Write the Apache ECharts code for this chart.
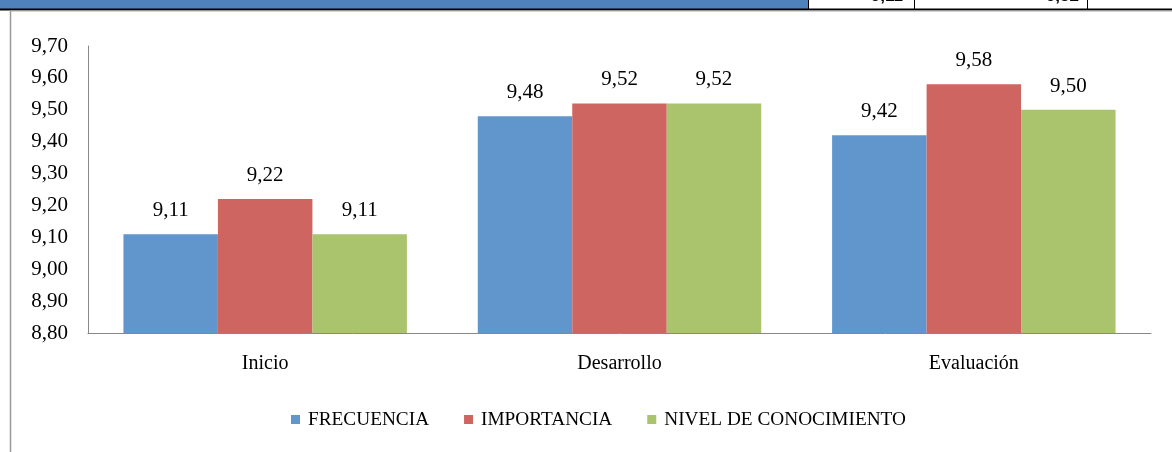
<!DOCTYPE html>
<html>
<head>
<meta charset="utf-8">
<script src="https://cdn.jsdelivr.net/npm/echarts@6/dist/echarts.min.js"></script>
<style>
  html, body { margin: 0; padding: 0; background: #fff; }
  #chart { width: 1172px; height: 452px; }
</style>
</head>
<body>
<div id="chart"></div>
<script>
  const categories = ['Inicio', 'Desarrollo', 'Evaluación']
  const seriesNames = ['FRECUENCIA', 'IMPORTANCIA', 'NIVEL DE CONOCIMIENTO']
  const frecuencia = [9.11, 9.48, 9.42]
  const importancia = [9.22, 9.52, 9.58]
  const nivel = [9.11, 9.52, 9.50]
  const tableCells = ['9,11', '9,52']

  const colors = ['#6096CC', '#CF6560', '#A9C46C']
  const font = 'Liberation Serif'

  const fmt = v => v.toFixed(2).replace('.', ',')

  const myChart = echarts.init(document.getElementById('chart'))

  const barSeries = [frecuencia, importancia, nivel].map((data, i) => ({
    name: seriesNames[i],
    type: 'bar',
    barGap: 0,
    barCategoryGap: '20%',
    itemStyle: { color: colors[i] },
    label: {
      show: true,
      position: 'top',
      distance: 13,
      fontFamily: font,
      fontSize: 21,
      color: '#000',
      formatter: p => fmt(p.value)
    },
    data: data
  }))

  myChart.setOption({
    animation: false,
    textStyle: { fontFamily: font },
    legend: {
      bottom: 18,
      left: 286,
      icon: 'rect',
      itemWidth: 9,
      itemHeight: 9,
      itemGap: 35,
      textStyle: { fontFamily: font, fontSize: 19.3, color: '#000', padding: [0, 0, 0, 3] },
      data: seriesNames
    },
    grid: { left: 88, right: 21, top: 46, bottom: 119 },
    xAxis: {
      type: 'category',
      data: categories,
      axisTick: { show: false },
      axisLine: { lineStyle: { color: '#888', width: 1 } },
      axisLabel: { fontFamily: font, fontSize: 20, color: '#000', margin: 21 }
    },
    yAxis: {
      type: 'value',
      min: 8.8,
      max: 9.7,
      interval: 0.1,
      splitLine: { show: false },
      axisTick: { show: false },
      axisLine: { show: true, lineStyle: { color: '#888', width: 1 } },
      axisLabel: { fontFamily: font, fontSize: 21, color: '#000', margin: 20, formatter: v => fmt(v) }
    },
    graphic: [
      { type: 'rect', shape: { x: 0, y: 0, width: 808, height: 9 }, style: { fill: '#4F81BD' } },
      { type: 'text', x: 903, y: 5, style: { text: tableCells[0], font: 'bold 17px Liberation Sans', fill: '#000', textAlign: 'right', textVerticalAlign: 'bottom' } },
      { type: 'text', x: 1079, y: 5, style: { text: tableCells[1], font: 'bold 17px Liberation Sans', fill: '#000', textAlign: 'right', textVerticalAlign: 'bottom' } },
      { type: 'line', shape: { x1: 0, y1: 9.5, x2: 1172, y2: 9.5 }, style: { stroke: '#000', lineWidth: 2 } },
      { type: 'line', shape: { x1: 808.5, y1: 0, x2: 808.5, y2: 9 }, style: { stroke: '#000', lineWidth: 1 } },
      { type: 'line', shape: { x1: 914.5, y1: 0, x2: 914.5, y2: 9 }, style: { stroke: '#000', lineWidth: 1 } },
      { type: 'line', shape: { x1: 1087.5, y1: 0, x2: 1087.5, y2: 9 }, style: { stroke: '#000', lineWidth: 1 } },
      { type: 'line', shape: { x1: 10.5, y1: 11, x2: 10.5, y2: 452 }, style: { stroke: '#999', lineWidth: 1.5 } },
      { type: 'line', shape: { x1: 10, y1: 11, x2: 1172, y2: 11 }, style: { stroke: '#aaa', lineWidth: 1 } }
    ],
    series: barSeries
  })
</script>
</body>
</html>
